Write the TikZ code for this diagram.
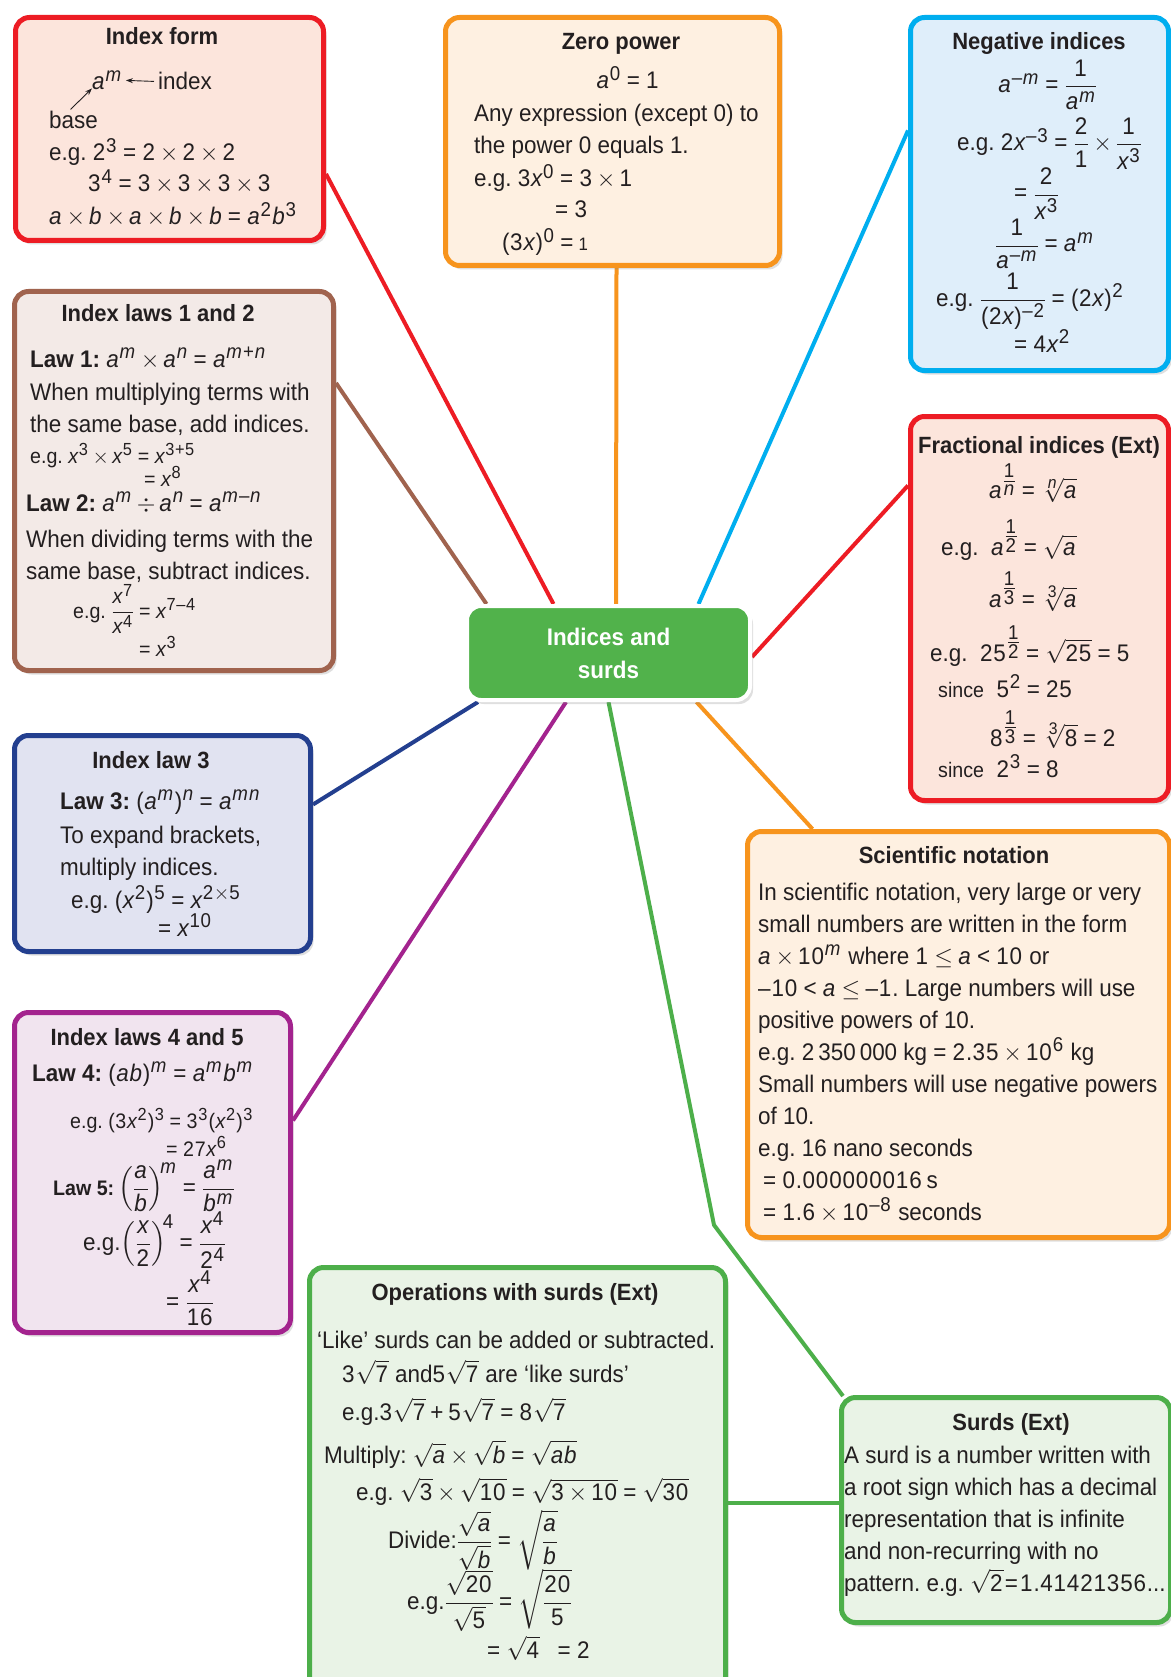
\RequirePackage{fix-cm}
\documentclass[tikz,border=0pt]{standalone}
\usepackage{amsmath}
\usepackage[no-math]{fontspec}
\setmainfont[FakeStretch=0.935]{Liberation Sans}
\usepackage[italic]{mathastext}
\usetikzlibrary{positioning,shadows,backgrounds,arrows.meta}
\frenchspacing
\thickmuskip=4mu plus 2mu
\medmuskip=3mu plus 1mu

\definecolor{ink}{HTML}{231F20}
\definecolor{redline}{HTML}{ED1C24}
\definecolor{redfill}{HTML}{FCE5DC}
\definecolor{orangeline}{HTML}{F7941D}
\definecolor{orangefill}{HTML}{FEF0E1}
\definecolor{blueline}{HTML}{00AEEF}
\definecolor{bluefill}{HTML}{DFEEFA}
\definecolor{brownline}{HTML}{A0634E}
\definecolor{brownfill}{HTML}{F3EAE7}
\definecolor{navyline}{HTML}{233F8F}
\definecolor{navyfill}{HTML}{E1E3F1}
\definecolor{purpleline}{HTML}{A3238E}
\definecolor{purplefill}{HTML}{F1E4EF}
\definecolor{greenline}{HTML}{4DAF4A}
\definecolor{greenfill}{HTML}{E9F3E6}
\definecolor{hubgreen}{HTML}{51B24B}

\begin{document}
\begin{tikzpicture}[x=1pt, y=-1pt,
    box/.style 2 args={draw=#1, fill=#2, line width=5pt, rounded corners=14pt, anchor=north west, inner sep=0pt,
        drop shadow={shadow xshift=3pt, shadow yshift=-4pt, opacity=0.25}},
    heading/.style={font=\fontsize{23.5}{28}\selectfont\bfseries, text=ink, anchor=base, inner sep=0pt},
    body/.style={font=\fontsize{24}{28}\selectfont, text=ink, anchor=base west, inner sep=0pt},
    smallbody/.style={body, font=\fontsize{21}{24}\selectfont},
    link/.style={line width=4pt, draw=#1, line join=round},
    pointer/.style={-{Stealth[length=7pt, width=5pt]}, line width=0.9pt, draw=ink}
]
\useasboundingbox (0,0) rectangle (1170,1677);

% --- Boxes ---
\node[box={redline}{redfill}, minimum width=308pt, minimum height=223pt] (form) at (13,15) {};
\node[box={orangeline}{orangefill}, minimum width=334pt, minimum height=248pt] (zero) at (443,15) {};
\node[box={blueline}{bluefill}, minimum width=258pt, minimum height=353pt] (neg) at (908,15) {};
\node[box={brownline}{brownfill}, minimum width=319pt, minimum height=379pt] (lawsab) at (12,289) {};
\node[box={redline}{redfill}, minimum width=258pt, minimum height=384pt] (frac) at (908,414) {};
\node[box={navyline}{navyfill}, minimum width=296pt, minimum height=216pt] (lawc) at (12,733) {};
\node[box={purpleline}{purplefill}, minimum width=276pt, minimum height=320pt] (lawde) at (12,1010) {};
\node[box={orangeline}{orangefill}, minimum width=422pt, minimum height=406pt] (sci) at (745,829) {};
\node[box={greenline}{greenfill}, minimum width=416pt, minimum height=430pt] (ops) at (307,1265) {};
\node[box={greenline}{greenfill}, minimum width=329pt, minimum height=225pt] (surds) at (839,1395) {};
\node[box={white}{hubgreen}, line width=4pt, minimum width=283pt, minimum height=94pt,
    font=\fontsize{24}{33}\selectfont\bfseries, text=white, align=center] (hub) at (465,604) {Indices and\\surds};

% --- Connectors ---
\begin{scope}[on background layer]
\fill[white] (0,0) rectangle (1170,1677);
\draw[link=redline] ([yshift=-45pt]form.east) -- ([xshift=-55pt]hub.north);
\draw[link=orangeline] ([xshift=4pt]zero.south) -- ([xshift=7.5pt]hub.north);
\draw[link=blueline] ([yshift=63.5pt]neg.west) -- ([xshift=90pt]hub.north);
\draw[link=brownline] ([yshift=98pt]lawsab.east) -- ([xshift=-122pt]hub.north);
\draw[link=redline] ([yshift=123pt]frac.west) -- ([yshift=-4pt]hub.east);
\draw[link=orangeline] ([xshift=88pt]hub.south) -- ([xshift=-146pt]sci.north);
\draw[link=navyline] ([yshift=39pt]lawc.east) -- ([xshift=-130.5pt]hub.south);
\draw[link=purpleline] ([yshift=52pt]lawde.east) -- ([xshift=-42.5pt]hub.south);
\coordinate (bend) at (714,1225);
\draw[link=greenline] (hub.south) -- (bend) -- ([xshift=4pt,yshift=-1pt]surds.north west);
\coordinate (opslink) at ([yshift=7.5pt]surds.west);
\draw[link=greenline] (opslink) -- (opslink -| ops.east);
\end{scope}

% --- Index form ---
\node[heading] (form-t) at (162,45) {Index form};
\node[body] (form-a) at (92,90) {$a^m$};
\node[body] (form-i) at (158,90) {index};
\node[body] (form-b) at (49,129) {base};
\draw[pointer] ([xshift=-4pt]form-i.west) -- ([xshift=3pt]form-a.east);
\draw[pointer] ([xshift=-3pt,yshift=2pt]form-b.north) -- ([yshift=2pt]form-a.south west);
\node[body] (form-1) at (49,161) {e.g. $2^3 = 2\times 2\times 2$};
\node[body] (form-2) at (88,192) {$3^4 = 3\times 3\times 3\times 3$};
\node[body] (form-3) at (49,225) {$a\times b\times a\times b\times b = a^2b^3$};

% --- Zero power ---
\node[heading] (zero-t) at (621,50) {Zero power};
\node[body, anchor=base] (zero-1) at (628,89) {$a^0 = 1$};
\node[body] (zero-2) at (474,122) {Any expression (except 0) to};
\node[body] (zero-3) at (474,154) {the power 0 equals 1.};
\node[body] (zero-4) at (474,187) {e.g. $3x^0 = 3\times 1$};
\node[body] (zero-5) at (555,218) {$= 3$};
\node[body] (zero-6) at (502,251) {$(3x)^0 =$\,{\fontsize{18}{20}\selectfont 1}};

% --- Negative indices ---
\node[heading] (neg-t) at (1039,50) {Negative indices};
\node[body, anchor=base] (neg-1) at (1048,93) {$a^{-m} = \dfrac{1}{a^m}$};
\node[body] (neg-2) at (957,151) {e.g. $2x^{-3} = \dfrac{2}{1}\times\dfrac{1}{x^3}$};
\node[body] (neg-3) at (1014,201) {$= \dfrac{2}{x^3}$};
\node[body] (neg-4) at (995,252) {$\dfrac{1}{a^{-m}} = a^m$};
\node[body] (neg-5) at (936,306) {e.g. $\dfrac{1}{(2x)^{-2}} = (2x)^2$};
\node[body] (neg-6) at (1014,352) {$= 4x^2$};

% --- Index laws 1 and 2 ---
\node[heading] (lawsab-t) at (158,321) {Index laws 1 and 2};
\node[body] (lawsab-1) at (30,367) {\textbf{Law 1:} $a^m\times a^n = a^{m+n}$};
\node[body] (lawsab-2) at (30,400) {When multiplying terms with};
\node[body] (lawsab-3) at (30,432) {the same base, add indices.};
\node[smallbody] (lawsab-4) at (30,463) {e.g. $x^3\times x^5 = x^{3+5}$};
\node[smallbody] (lawsab-5) at (144,486) {$= x^8$};
\node[body] (lawsab-6) at (26,511) {\textbf{Law 2:} $a^m\div a^n = a^{m-n}$};
\node[body] (lawsab-7) at (26,547) {When dividing terms with the};
\node[body] (lawsab-8) at (26,579) {same base, subtract indices.};
\node[smallbody] (lawsab-9) at (73,618) {e.g. $\dfrac{x^7}{x^4} = x^{7-4}$};
\node[smallbody] (lawsab-10) at (139,656) {$= x^3$};

% --- Fractional indices ---
\node[heading] (frac-t) at (1039,453) {Fractional indices (Ext)};
\node[body] (frac-1) at (989,498) {$a^{\textstyle\frac{1}{n}} = \sqrt[n]{a}$};
\node[body] (frac-2) at (941,555) {e.g.\ \ $a^{\textstyle\frac{1}{2}} = \sqrt{a}$};
\node[body] (frac-3) at (989,607) {$a^{\textstyle\frac{1}{3}} = \sqrt[3]{a}$};
\node[body] (frac-4) at (930,661) {e.g.\ \ $25^{\textstyle\frac{1}{2}} = \sqrt{25} = 5$};
\node[body] (frac-5) at (938,697) {{\fontsize{21}{24}\selectfont since}\ \ $5^2 = 25$};
\node[body] (frac-6) at (990,746) {$8^{\textstyle\frac{1}{3}} = \sqrt[3]{8} = 2$};
\node[body] (frac-7) at (938,777) {{\fontsize{21}{24}\selectfont since}\ \ $2^3 = 8$};

% --- Index law 3 ---
\node[heading] (lawc-t) at (151,768) {Index law 3};
\node[body] (lawc-1) at (60,809) {\textbf{Law 3:} $(a^m)^n = a^{mn}$};
\node[body] (lawc-2) at (60,843) {To expand brackets,};
\node[body] (lawc-3) at (60,875) {multiply indices.};
\node[body] (lawc-4) at (71,908) {e.g. $(x^2)^5 = x^{2\times 5}$};
\node[body] (lawc-5) at (158,936) {$= x^{10}$};

% --- Index laws 4 and 5 ---
\node[heading] (lawde-t) at (147,1045) {Index laws 4 and 5};
\node[body] (lawde-1) at (32,1081) {\textbf{Law 4:} $(ab)^m = a^m b^m$};
\node[smallbody] (lawde-2) at (70,1128) {e.g. $(3x^2)^3 = 3^3(x^2)^3$};
\node[smallbody] (lawde-3) at (166,1156) {$= 27x^6$};
\node[body] (lawde-4) at (53,1195) {{\fontsize{21}{24}\selectfont\bfseries Law 5:}\,$\left(\dfrac{a}{b}\right)^{\!m} = \dfrac{a^m}{b^m}$};
\node[body] (lawde-5) at (83,1250) {e.g.$\left(\dfrac{x}{2}\right)^{\!4} = \dfrac{x^4}{2^4}$};
\node[body] (lawde-6) at (166,1309) {$= \dfrac{x^4}{16}$};

% --- Scientific notation ---
\node[heading] (sci-t) at (954,863) {Scientific notation};
\foreach \txt [count=\k] in {
    {In scientific notation, very large or very},
    {small numbers are written in the form},
    {$a\times 10^m$ where $1\le a< 10$ or},
    {$-10< a\le -1$. Large numbers will use},
    {positive powers of 10.},
    {e.g. 2\,350\,000 kg $= 2.35\times 10^6$ kg},
    {Small numbers will use negative powers},
    {of 10.},
    {e.g. 16 nano seconds},
    {\hspace{5pt}$= 0.000000016$\,s},
    {\hspace{5pt}$= 1.6\times 10^{-8}$ seconds}}
    \node[body] (sci-\k) at (758,868+32*\k) {\txt};

% --- Operations with surds ---
\node[heading] (ops-t) at (515,1300) {Operations with surds (Ext)};
\node[body] (ops-1) at (317,1348) {`Like' surds can be added or subtracted.};
\node[body] (ops-2) at (342,1382) {$3\sqrt{7}$ and$5\sqrt{7}$ are `like surds'};
\node[body] (ops-3) at (342,1420) {e.g.$3\sqrt{7} + 5\sqrt{7} = 8\sqrt{7}$};
\node[body] (ops-4) at (324,1463) {Multiply: $\sqrt{a}\times\sqrt{b} = \sqrt{ab}$};
\node[body] (ops-5) at (356,1500) {e.g. $\sqrt{3}\times\sqrt{10} = \sqrt{3\times 10} = \sqrt{30}$};
\node[body] (ops-6) at (388,1548) {Divide:$\dfrac{\sqrt{a}}{\sqrt{b}} = \sqrt{\dfrac{a}{b}}$};
\node[body] (ops-7) at (407,1609) {e.g.$\dfrac{\sqrt{20}}{\sqrt{5}} = \sqrt{\dfrac{20}{5}}$};
\node[body] (ops-8) at (487,1658) {$= \sqrt{4}\ \ = 2$};

% --- Surds ---
\node[heading] (surds-t) at (1011,1430) {Surds (Ext)};
\foreach \txt [count=\k] in {
    {A surd is a number written with},
    {a root sign which has a decimal},
    {representation that is infinite},
    {and non-recurring with no},
    {pattern. e.g. $\sqrt{2}\!=\!1.41421356${.}{.}{.}}}
    \node[body] (surds-\k) at (844,1431+32*\k) {\txt};

\end{tikzpicture}
\end{document}
